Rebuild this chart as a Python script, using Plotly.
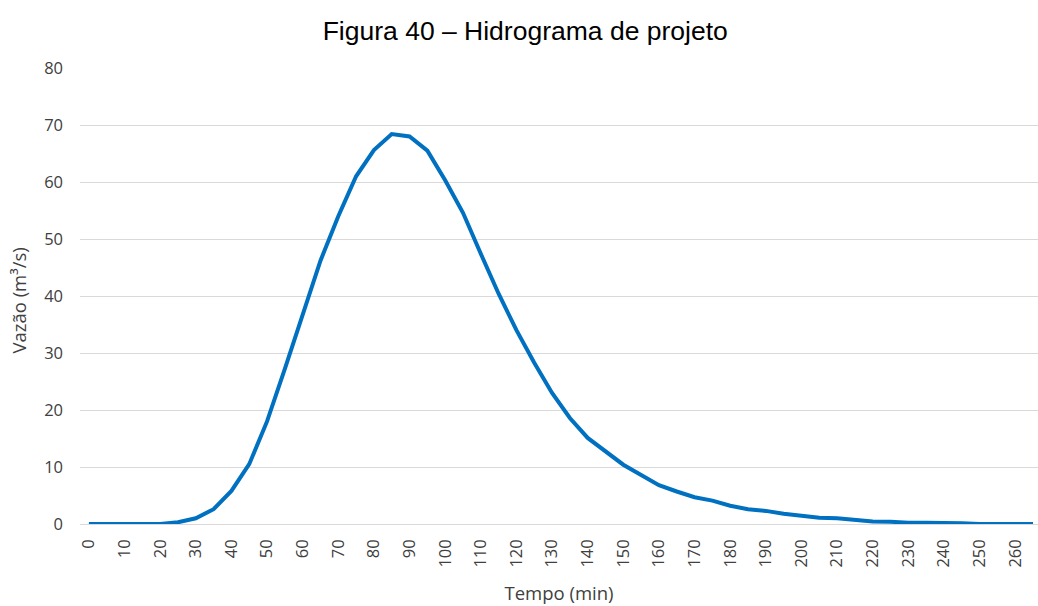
import plotly.graph_objects as go

# Hidrograma de projeto: vazão (m³/s) a cada 5 minutos
tempo_min = [0, 5, 10, 15, 20, 25, 30, 35, 40, 45, 50, 55, 60, 65, 70, 75, 80, 85, 90, 95,
             100, 105, 110, 115, 120, 125, 130, 135, 140, 145, 150, 155, 160, 165, 170, 175,
             180, 185, 190, 195, 200, 205, 210, 215, 220, 225, 230, 235, 240, 245, 250, 255,
             260, 265]
vazao_m3s = [0, 0, 0, 0, 0, 0.3, 1.0, 2.6, 5.8, 10.5, 18.0, 27.2, 36.5, 46.2, 54.0, 61.0,
             65.6, 68.4, 68.0, 65.5, 60.3, 54.6, 47.4, 40.4, 34.0, 28.3, 23.0, 18.6, 15.1,
             12.7, 10.4, 8.6, 6.8, 5.7, 4.7, 4.1, 3.2, 2.6, 2.3, 1.8, 1.4, 1.1, 1.0, 0.7,
             0.45, 0.4, 0.2, 0.2, 0.2, 0.15, 0, 0, 0, 0]
x_ticks = [0, 10, 20, 30, 40, 50, 60, 70, 80, 90, 100, 110, 120, 130, 140, 150, 160, 170,
           180, 190, 200, 210, 220, 230, 240, 250, 260]
y_ticks = [0, 10, 20, 30, 40, 50, 60, 70, 80]

tick_font = dict(family="Open Sans", size=16.5, color="#404040")
title_font = dict(family="Open Sans", size=18.5, color="#404040")

fig = go.Figure(
    go.Scatter(
        x=tempo_min,
        y=vazao_m3s,
        mode="lines",
        line=dict(color="#0070c0", width=4),
        hoverinfo="x+y",
    )
)

fig.update_layout(
    width=1038,
    height=606,
    paper_bgcolor="white",
    plot_bgcolor="white",
    margin=dict(l=80, r=0, t=68, b=82),
    showlegend=False,
    title=dict(
        text="Figura 40 – Hidrograma de projeto",
        font=dict(family="Liberation Sans", size=26.5, color="black"),
        x=0.506,
        xanchor="center",
        y=0.95,
        yanchor="middle",
        xref="container",
        yref="container",
    ),
    # y-axis title placed close to the left edge
    annotations=[
        dict(
            text="Vazão (m³/s)",
            font=title_font,
            textangle=-90,
            xref="paper",
            yref="paper",
            x=-61 / 958,
            y=0.49,
            xanchor="center",
            yanchor="middle",
            showarrow=False,
        )
    ],
)

fig.update_xaxes(
    range=[-2.5, 266.4],
    tickmode="array",
    tickvals=x_ticks,
    ticktext=[str(v) for v in x_ticks],
    tickangle=-90,
    tickfont=tick_font,
    showgrid=False,
    zeroline=False,
    showline=False,
    ticks="",
    ticklabelstandoff=11,
    title=dict(text="Tempo (min)", font=title_font, standoff=20),
)

fig.update_yaxes(
    range=[0, 80],
    tickmode="array",
    tickvals=y_ticks,
    tickfont=tick_font,
    showgrid=True,
    gridcolor="#d9d9d9",
    gridwidth=1.3,
    zeroline=True,
    zerolinecolor="#d9d9d9",
    zerolinewidth=1.3,
    showline=False,
    ticks="",
    ticklabelstandoff=16,
)

fig.write_html("out.html")
